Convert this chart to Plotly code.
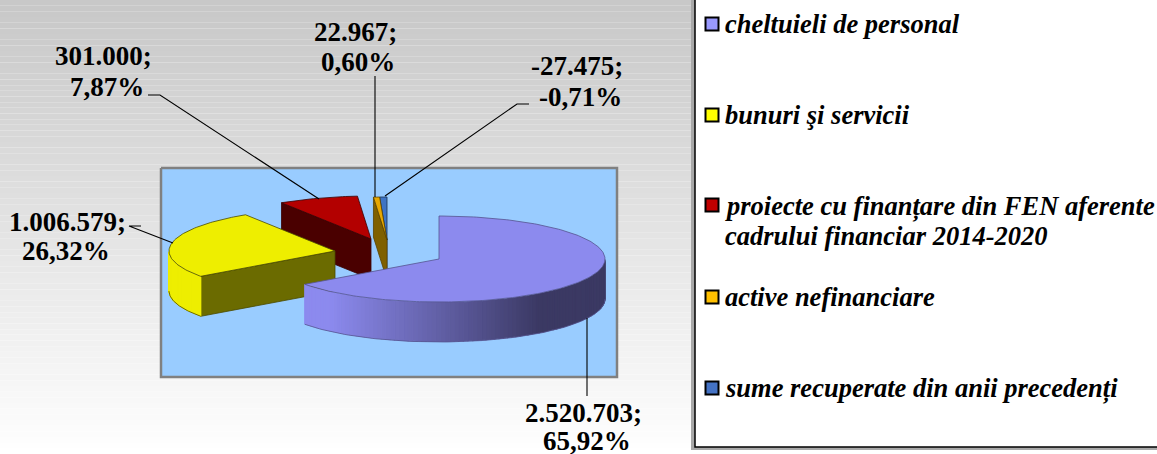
import math
import plotly.graph_objects as go

categories = ["cheltuieli de personal", "bunuri şi servicii",
              "proiecte cu finanțare din FEN aferente<br>cadrului financiar 2014-2020",
              "active nefinanciare", "sume recuperate din anii precedenți"]
values = [2520703, 1006579, 301000, 22967, -27475]
value_labels = ["2.520.703;<br>65,92%", "1.006.579;<br>26,32%", "301.000;<br>7,87%",
                "22.967;<br>0,60%", "-27.475;<br>-0,71%"]

W, H = 1157, 454
RX, RY, DEPTH = 166, 43, 40
apex = [(439, 259), (335, 251), (371, 239), (387, 240), (387, 240)]
top_col = ["#8c8aee", "#eeee00", "#b30000", "#e8a800", "#3f74c4"]
side_col = ["#5c5aa0", "#6b6b00", "#4a0000", "#7f6000", "#1f3a60"]
arc_col = [None, "#eeee00", "#8f0000", "#b8860b", "#2d5590"]
key_col = ["#9999ff", "#ffff00", "#c00000", "#ffc000", "#4472c4"]
edge_col = ["#55548f", "#4a4a00", "#3a0000", "#5a4300", "#17304f"]
label_lines = [[(583.5, 413), (587, 441)], [(67, 222), (66, 251)], [(103.5, 56), (107, 87)],
               [(355, 32), (358, 62)], [(577, 66), (580, 97)]]
leaders = [([587, 587], [318, 396]),
           ([141, 129, 173], [226, 226, 243]),
           ([148, 160, 319], [95, 95, 199]),
           ([375, 375], [76, 197]),
           ([529, 517, 385], [104, 104, 196])]
legend_y = [24, 115, 206, 297, 388]
LEGEND_STEP = 30
key_y = [24, 115, 205, 297, 388]

FONT = "Liberation Serif"

fig = go.Figure()


def poly(xs, ys, fill, line=None, lw=0.8):
    fig.add_trace(go.Scatter(x=list(xs) + [xs[0]], y=list(ys) + [ys[0]], mode="lines",
                             fill="toself", fillcolor=fill, hoverinfo="skip", showlegend=False,
                             line=dict(color=line or fill, width=lw if line else 1.2)))


def pt(c, deg, dy=0):
    a = math.radians(deg)
    return c[0] + RX * math.sin(a), c[1] - RY * math.cos(a) + dy


def mix(a, b, t):
    return "rgb(%d,%d,%d)" % tuple(a[i] + (b[i] - a[i]) * t for i in range(3))


total = sum(abs(v) for v in values)
spans = []
s = 0.0
for v in values:
    e = s + abs(v) / total * 360
    spans.append((s, e))
    s = e


def draw_slice(i):
    a0, a1 = spans[i]
    c = apex[i]
    # radial faces that look towards the viewer
    for ang, sign in ((a0, 1), (a1, -1)):
        p = pt(c, ang)
        dx, dy = p[0] - c[0], p[1] - c[1]
        ny = dx * sign  # y component of outward normal on screen
        if ny < 0 and abs(dx) > 0.5:
            poly([c[0], p[0], p[0], c[0]], [c[1], p[1], p[1] + DEPTH, c[1] + DEPTH],
                 side_col[i], edge_col[i])
    # outer wall
    lo, hi = max(a0, 90), min(a1, 270)
    if hi > lo:
        n = 90
        for k in range(n):
            u0 = lo + (hi - lo) * k / n
            u1 = lo + (hi - lo) * (k + 1) / n
            p0, p1 = pt(c, u0), pt(c, u1)
            if i == 0:
                t = min(1, max(0, ((p0[0] + p1[0]) / 2 - 330) / 210))
                col = mix((140, 138, 238), (59, 57, 99), t)
            else:
                col = arc_col[i]
            poly([p0[0], p1[0], p1[0], p0[0]],
                 [p0[1] + 0.6, p1[1] + 0.6, p1[1] + DEPTH - 0.6, p0[1] + DEPTH - 0.6], col)
        xs = [pt(c, lo + (hi - lo) * k / n)[0] for k in range(n + 1)]
        ys = [pt(c, lo + (hi - lo) * k / n)[1] + DEPTH for k in range(n + 1)]
        fig.add_trace(go.Scatter(x=xs, y=ys, mode="lines", hoverinfo="skip", showlegend=False,
                                 line=dict(color=edge_col[i], width=0.8)))
    # top face
    m = max(2, int(a1 - a0))
    arc = [pt(c, a0 + (a1 - a0) * k / m) for k in range(m + 1)]
    poly([c[0]] + [p[0] for p in arc], [c[1]] + [p[1] for p in arc], top_col[i], edge_col[i])


# plot area fill is a trace so it stays under the pie
poly([161, 617, 617, 161], [168, 168, 377, 377], "#99ccff", "#808080", 2.5)
for idx in (2, 4, 3, 1, 0):
    draw_slice(idx)

# leader lines
for lx, ly in leaders:
    fig.add_trace(go.Scatter(x=lx, y=ly, mode="lines", hoverinfo="skip", showlegend=False,
                             line=dict(color="black", width=1.1)))

# legend keys
fig.add_trace(go.Scatter(x=[712] * 5, y=key_y, mode="markers", hoverinfo="skip", showlegend=False,
                         marker=dict(symbol="square", size=13, color=key_col,
                                     line=dict(color="black", width=2))))

shapes = []
bands = 80
for b in range(bands):
    t = b / (bands - 1)
    shapes.append(dict(type="rect", xref="paper", yref="paper", layer="below",
                       x0=0, x1=1, y0=1 - (b + 1) / bands, y1=1 - b / bands,
                       fillcolor=mix((200, 200, 200), (255, 255, 255), t), line_width=0))
# legend box
shapes.append(dict(type="rect", xref="x", yref="y", layer="below", x0=691, x1=1160, y0=-3, y1=450,
                   fillcolor="#a8a8a8", line_width=0))
shapes.append(dict(type="rect", xref="x", yref="y", layer="below", x0=695, x1=1160, y0=-3, y1=447,
                   fillcolor="white", line=dict(color="black", width=1.5)))

ann = []
for lines, txt in zip(label_lines, value_labels):
    for (x, y), part in zip(lines, txt.split("<br>")):
        ann.append(dict(x=x, y=y, text="<b>%s</b>" % part, showarrow=False,
                        xanchor="center", yanchor="middle",
                        font=dict(family=FONT, size=27, color="black")))
for y, txt in zip(legend_y, categories):
    for j, part in enumerate(txt.split("<br>")):
        ann.append(dict(x=723, y=y + j * LEGEND_STEP, text="<b><i>%s</i></b>" % part, showarrow=False,
                        xanchor="left", yanchor="middle", align="left",
                        font=dict(family=FONT, size=26.5, color="black")))

fig.update_layout(width=W, height=H, margin=dict(l=0, r=0, t=0, b=0),
                  paper_bgcolor="white", plot_bgcolor="rgba(0,0,0,0)", showlegend=False,
                  xaxis=dict(range=[0, W], visible=False, fixedrange=True),
                  yaxis=dict(range=[H, 0], visible=False, fixedrange=True),
                  shapes=shapes, annotations=ann)
fig.write_html("out.html", config=dict(displayModeBar=False),
               post_script="document.body.style.margin='0';document.body.style.overflow='hidden';")
